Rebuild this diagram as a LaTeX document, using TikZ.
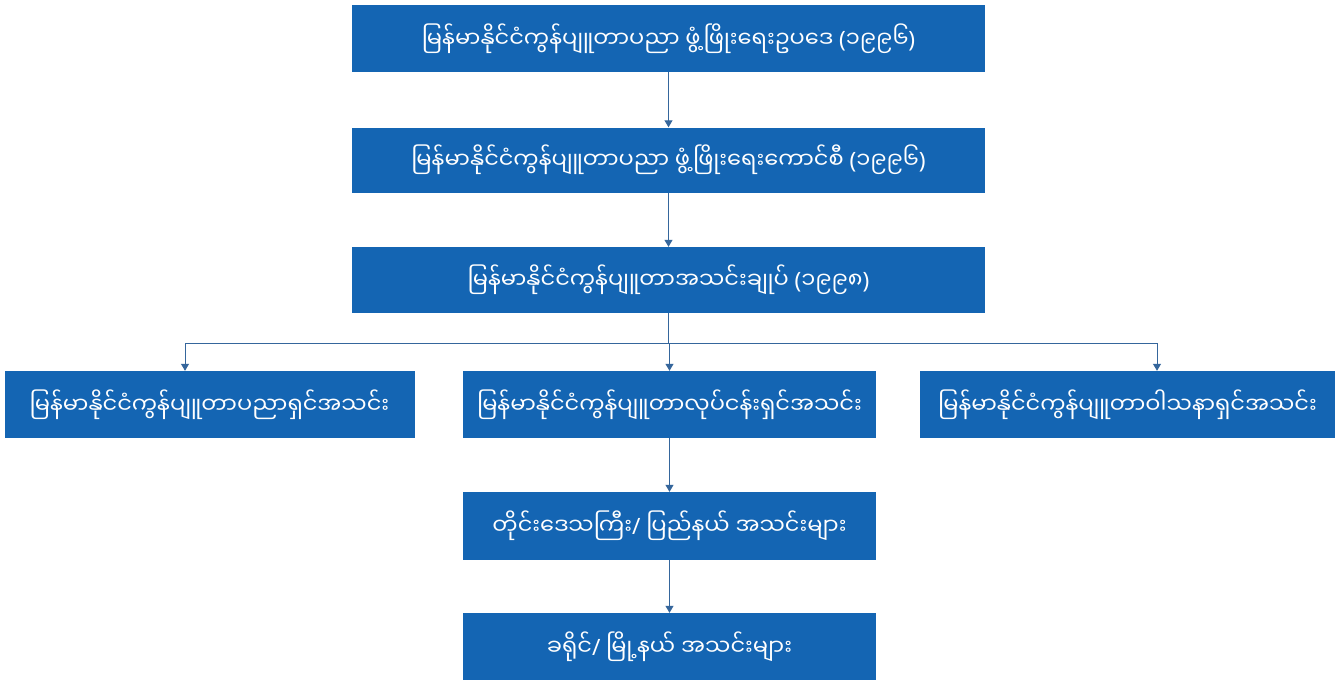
\documentclass[tikz,border=0pt]{standalone}
\usepackage{fontspec}
\newfontfamily\mya[Script=Myanmar]{Noto Sans Myanmar UI}
\newfontfamily\lat{Noto Sans}
\newcommand{\mylp}{{\lat(}}
\newcommand{\myrp}{{\lat)}}
\newcommand{\mysl}{{\lat/}}
\usetikzlibrary{arrows.meta,calc}
\definecolor{boxblue}{HTML}{1465B3}
\definecolor{linkblue}{HTML}{35669C}
\tikzset{
  box/.style={rectangle, fill=boxblue, draw=none, text=white, font=\mya\fontsize{22.5}{27}\selectfont, inner sep=0pt, anchor=center},
  link/.style={draw=linkblue, line width=1pt},
  arr/.style={link, -{Triangle[width=8pt,length=7pt]}}
}
\begin{document}
\begin{tikzpicture}[x=1pt,y=-1pt]
\useasboundingbox[fill=white] (0,0) rectangle (1338,683);
\node[box, minimum width=633pt, minimum height=67pt] (law) at (668.5,38.5) {မြန်မာနိုင်ငံကွန်ပျူတာပညာ ဖွံ့ဖြိုးရေးဥပဒေ \mylp၁၉၉၆\myrp};
\node[box, minimum width=633pt, minimum height=65pt] (council) at (668.5,160) {မြန်မာနိုင်ငံကွန်ပျူတာပညာ ဖွံ့ဖြိုးရေးကောင်စီ \mylp၁၉၉၆\myrp};
\node[box, minimum width=633pt, minimum height=66pt] (fed) at (668.5,280) {မြန်မာနိုင်ငံကွန်ပျူတာအသင်းချုပ် \mylp၁၉၉၈\myrp};
\node[box, minimum width=410pt, minimum height=67pt] (prof) at (209.5,404.5) {မြန်မာနိုင်ငံကွန်ပျူတာပညာရှင်အသင်း};
\node[box, minimum width=413pt, minimum height=67pt] (ent) at (669.5,404.5) {မြန်မာနိုင်ငံကွန်ပျူတာလုပ်ငန်းရှင်အသင်း};
\node[box, minimum width=415pt, minimum height=67pt] (hob) at (1127.5,404.5) {မြန်မာနိုင်ငံကွန်ပျူတာဝါသနာရှင်အသင်း};
\node[box, minimum width=413pt, minimum height=68pt] (reg) at (669.5,526) {တိုင်းဒေသကြီး\mysl{} ပြည်နယ် အသင်းများ};
\node[box, minimum width=413pt, minimum height=67pt] (dist) at (669.5,646.5) {ခရိုင်\mysl{} မြို့နယ် အသင်းများ};
\coordinate (jl) at (185,343);
\coordinate (jm) at (669.5,343);
\coordinate (jr) at (1157,343);
\draw[arr] (law.south) -- (council.north);
\draw[arr] (council.south) -- (fed.north);
\draw[link] (fed.south) -- (fed.south |- jm);
\draw[link] (jl) -- (jr);
\draw[arr] (jl) -- (jl |- prof.north);
\draw[arr] (jm) -- (ent.north);
\draw[arr] (jr) -- (jr |- hob.north);
\draw[arr] (ent.south) -- (reg.north);
\draw[arr] (reg.south) -- (dist.north);
\end{tikzpicture}
\end{document}
